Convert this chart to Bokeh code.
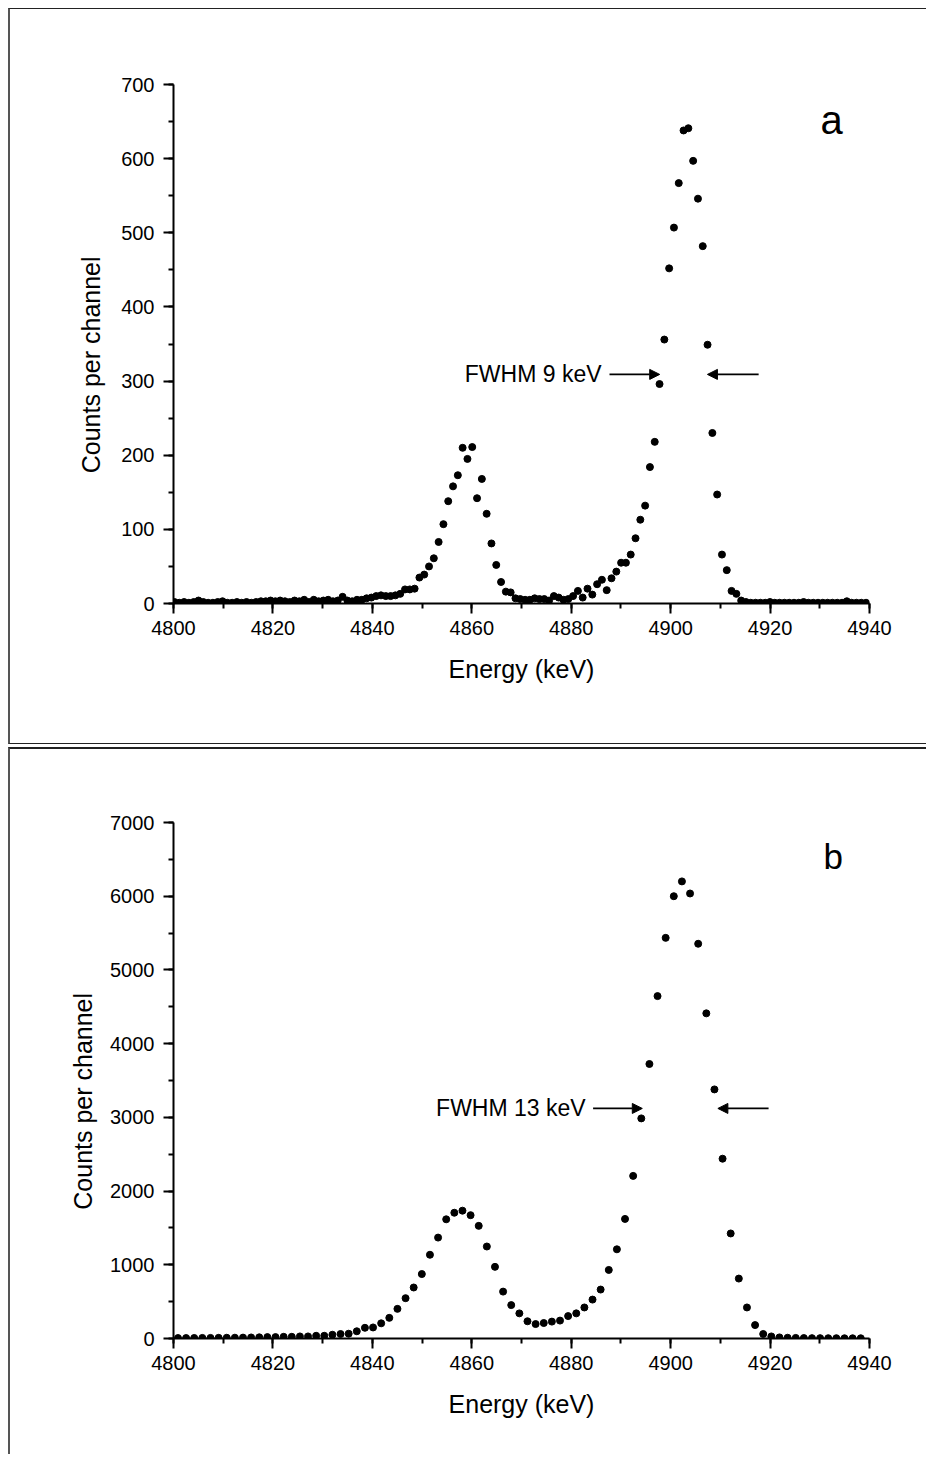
from bokeh.plotting import figure
from bokeh.models import (ColumnDataSource, SingleIntervalTicker, Label, Arrow,
                          NormalHead, Range1d, Spacer)
from bokeh.layouts import column, row
from bokeh.embed import file_html
from bokeh.resources import INLINE

FONT = "Liberation Sans"

# ---------------- data: panel a ----------------
channel_a_start = 4800.2   # keV, first channel
channel_a_width = 0.966    # keV per channel
counts_a = [2, 1, 2, 1, 2, 4, 2, 1, 1, 2,
            3, 1, 1, 2, 1, 2, 1, 2, 3, 3,
            4, 3, 4, 3, 2, 4, 3, 5, 2, 5,
            3, 4, 5, 3, 4, 9, 4, 3, 5, 5,
            7, 8, 10, 11, 10, 10, 11, 13,
            19, 19, 20, 35, 39, 50, 61, 83, 107, 138,
            158, 173, 210, 195, 211, 142, 168, 121, 81, 52,
            29, 16, 15, 7, 6, 5, 5, 7, 6, 6,
            4, 10, 8, 5, 6, 10, 17, 8, 20, 12,
            26, 32, 18, 34, 43, 55, 55, 66, 88, 113,
            132, 184, 218, 296, 356, 452, 507, 567, 638, 641,
            597, 546, 482, 349, 230, 147, 66, 45, 17, 13,
            4,
            2, 1, 1, 1, 1, 2, 1, 1, 1, 1,
            1, 1, 2, 1, 1, 1, 1, 1, 1, 1,
            1, 3, 1, 1, 1, 1]
energy_a = [channel_a_start + channel_a_width * i for i in range(len(counts_a))]

# ---------------- data: panel b ----------------
channel_b_start = 4800.9
channel_b_width = 1.635
counts_b = [6, 6, 7, 8, 8, 9, 10, 11, 12, 14,
            16, 19, 19, 23, 23, 28, 28, 37, 37, 51,
            61, 65, 98, 145, 150, 206, 280, 402, 547, 692,
            874, 1136, 1369, 1617, 1706, 1734, 1673, 1528, 1248, 972,
            636, 453, 341, 234, 196, 210, 229, 243, 304, 341,
            421, 528, 664, 930, 1210, 1622, 2206, 2986, 3724, 4645,
            5435, 6000, 6201, 6037, 5355, 4411, 3379, 2439, 1425, 813,
            421, 182, 61, 28, 15, 10, 8, 6, 5, 5,
            4, 4, 3, 3, 3]
energy_b = [channel_b_start + channel_b_width * i for i in range(len(counts_b))]

x_label = "Energy (keV)"
y_label = "Counts per channel"
# non-breaking spaces shift the centred title slightly downward, as in the original
y_label_padded = y_label + "\u00a0" * 6
x_limits = (4800, 4940)
y_limits_a = (0, 700)
y_limits_b = (0, 7000)

fwhm_a = dict(text="FWHM 9 keV", text_x=4886.1, y=309,
              arrow1=(4887.7, 4897.8), arrow2=(4917.7, 4907.4))
fwhm_b = dict(text="FWHM 13 keV", text_x=4882.9, y=3121,
              arrow1=(4884.4, 4894.3), arrow2=(4919.7, 4909.5))


def style(p, y_interval, y_title_standoff):
    p.xaxis.ticker = SingleIntervalTicker(interval=20, num_minor_ticks=2)
    p.yaxis.ticker = SingleIntervalTicker(interval=y_interval, num_minor_ticks=2)
    for ax in (p.xaxis[0], p.yaxis[0]):
        ax.axis_line_width = 2
        ax.axis_line_color = "black"
        ax.major_tick_line_width = 2
        ax.minor_tick_line_width = 2
        ax.major_tick_line_color = "black"
        ax.minor_tick_line_color = "black"
        ax.major_tick_in = 0
        ax.major_tick_out = 10
        ax.minor_tick_in = 0
        ax.minor_tick_out = 5
        ax.major_label_text_font = FONT
        ax.major_label_text_font_size = "20px"
        ax.major_label_text_color = "black"
        ax.axis_label_text_font = FONT
        ax.axis_label_text_font_size = "25px"
        ax.axis_label_text_font_style = "normal"
        ax.axis_label_text_color = "black"
    p.xaxis.major_label_standoff = 7
    p.xaxis.axis_label_standoff = 17
    p.yaxis.major_label_standoff = 9
    p.yaxis.axis_label_standoff = y_title_standoff
    p.xgrid.visible = False
    p.ygrid.visible = False
    p.outline_line_color = None


def annotate(p, info, letter, letter_x, letter_y, letter_size):
    p.add_layout(Label(x=info["text_x"], y=info["y"], text=info["text"],
                       text_align="right", text_baseline="middle",
                       text_font=FONT, text_font_size="23px", text_color="black"))
    for (xs, xe) in (info["arrow1"], info["arrow2"]):
        p.add_layout(Arrow(end=NormalHead(size=10, fill_color="black", line_color="black"),
                           x_start=xs, y_start=info["y"], x_end=xe, y_end=info["y"],
                           line_width=1.8, line_color="black"))
    p.add_layout(Label(x=letter_x, y=letter_y, text=letter, text_align="center",
                       text_baseline="alphabetic", text_font=FONT,
                       text_font_size=letter_size, text_color="black"))


pa = figure(width=918, height=736, x_range=Range1d(*x_limits), y_range=Range1d(*y_limits_a),
            output_backend="svg", toolbar_location=None,
            min_border_left=155, min_border_right=59, min_border_top=75, min_border_bottom=142,
            x_axis_label=x_label, y_axis_label=y_label_padded,
            styles={"border-top": "1px solid #222", "border-left": "2px solid #555",
                    "border-bottom": "1px solid #222"})
style(pa, 100, 13)
src_a = ColumnDataSource(dict(energy=energy_a, counts=counts_a))
pa.scatter("energy", "counts", source=src_a, size=7, color="black")
annotate(pa, fwhm_a, "a", 4932.4, 652, "40px")

pb = figure(width=918, height=707, x_range=Range1d(*x_limits), y_range=Range1d(*y_limits_b),
            output_backend="svg", toolbar_location=None,
            min_border_left=163, min_border_right=58, min_border_top=73, min_border_bottom=118,
            x_axis_label=x_label, y_axis_label=y_label_padded,
            styles={"border-top": "2px solid #222", "border-left": "2px solid #555"})
style(pb, 1000, 10)
src_b = ColumnDataSource(dict(energy=energy_b, counts=counts_b))
pb.scatter("energy", "counts", source=src_b, size=7, color="black")
annotate(pb, fwhm_b, "b", 4932.7, 6540, "35px")

stack = column(Spacer(width=918, height=8), pa, Spacer(width=918, height=3), pb, spacing=0)
layout = row(Spacer(width=8, height=1458), stack, spacing=0)
open("out.html", "w").write(file_html(layout, INLINE))
